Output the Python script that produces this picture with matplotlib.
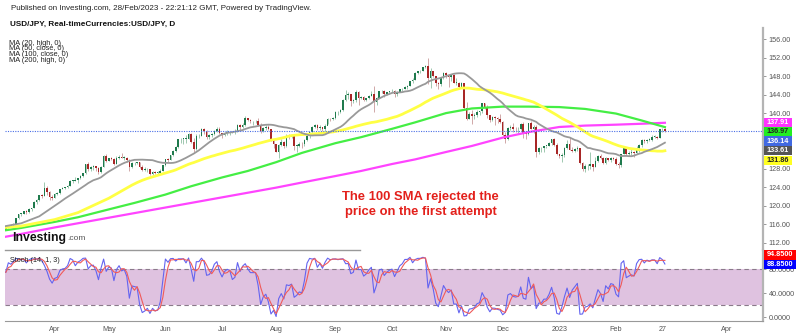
import numpy as np
import pandas as pd
import matplotlib
matplotlib.use("Agg")
import matplotlib.pyplot as plt
from matplotlib.lines import Line2D
from matplotlib.patches import Rectangle

plt.rcParams['font.family'] = ['Liberation Sans', 'DejaVu Sans']

# USD/JPY daily bars, 2022-03-07 .. 2023-02-28 (open = previous close)
first_open = 114.80
closes = [
    115.30, 115.70, 115.85, 116.10, 117.30, 118.20, 118.30, 118.75, 118.60, 119.20,
    119.50, 120.80, 121.20, 122.30, 122.05, 123.80, 122.90, 121.80, 121.70, 122.50,
    122.80, 123.60, 123.80, 123.95, 124.30, 125.40, 125.40, 125.60, 125.90, 126.40,
    127.00, 128.90, 127.90, 128.40, 128.50, 128.10, 127.20, 128.40, 130.80, 129.70,
    130.20, 130.10, 129.10, 130.20, 130.60, 130.30, 130.40, 129.90, 128.30, 129.20,
    129.20, 129.40, 128.30, 127.80, 127.90, 127.90, 126.90, 127.30, 127.10, 127.10,
    127.60, 128.70, 130.00, 129.90, 130.90, 131.90, 132.60, 134.30, 134.40, 134.40,
    134.40, 135.50, 133.80, 132.20, 135.00, 135.10, 136.60, 136.20, 134.90, 135.20,
    135.50, 136.10, 136.60, 135.70, 135.20, 135.70, 135.90, 135.90, 136.00, 136.10,
    137.40, 136.90, 137.40, 138.90, 138.50, 138.20, 138.20, 138.20, 137.40, 136.10,
    136.70, 137.00, 136.50, 134.20, 133.30, 131.60, 133.20, 133.80, 133.00, 135.00,
    134.90, 135.10, 132.90, 133.00, 133.40, 133.30, 134.20, 135.00, 135.90, 137.00,
    137.50, 136.70, 137.10, 136.60, 137.20, 138.80, 138.70, 138.90, 140.20, 140.20,
    140.60, 142.80, 144.00, 144.10, 142.60, 142.80, 144.60, 143.20, 143.50, 142.90,
    143.20, 143.70, 144.10, 142.40, 143.30, 144.70, 144.80, 144.20, 144.50, 144.70,
    144.80, 144.10, 144.60, 145.10, 145.30, 145.70, 145.80, 146.90, 147.20, 148.70,
    149.00, 149.20, 149.90, 150.20, 147.60, 149.00, 148.00, 146.40, 146.30, 147.50,
    148.70, 148.20, 147.90, 148.20, 146.60, 146.60, 145.60, 146.40, 141.00, 138.80,
    139.90, 139.30, 139.50, 140.20, 140.40, 142.10, 141.20, 139.50, 138.60, 139.10,
    138.90, 138.70, 138.10, 135.30, 134.30, 136.80, 137.00, 136.60, 136.50, 136.60,
    137.70, 135.60, 135.50, 137.80, 136.60, 136.90, 131.70, 132.40, 132.40, 132.90,
    132.90, 133.50, 134.40, 133.10, 131.10, 130.70, 131.00, 132.50, 133.40, 132.10,
    131.90, 132.20, 132.50, 129.20, 127.90, 128.50, 128.60, 128.90, 128.40, 129.60,
    130.70, 130.20, 129.20, 130.20, 129.90, 130.40, 130.10, 128.90, 128.70, 131.20,
    132.60, 131.10, 131.40, 131.50, 131.40, 132.40, 133.10, 134.10, 133.90, 134.20,
    134.20, 134.90, 134.90, 134.70, 136.47, 136.607, 136.14,
]
highs = [
    115.50, 115.80, 116.00, 116.20, 117.35, 118.30, 118.45, 118.90, 119.00, 119.40,
    119.60, 121.00, 121.40, 122.40, 122.45, 125.10, 124.30, 123.20, 122.40, 122.70,
    123.00, 123.70, 124.00, 124.10, 124.40, 125.50, 125.60, 126.30, 126.00, 126.70,
    127.10, 129.00, 129.40, 128.60, 128.80, 128.60, 128.30, 128.60, 131.00, 131.20,
    130.40, 130.50, 130.40, 130.80, 131.00, 131.30, 130.80, 130.50, 130.00, 129.40,
    129.50, 129.50, 129.50, 128.80, 128.30, 128.20, 128.00, 127.50, 127.60, 127.50,
    127.90, 128.80, 130.10, 130.20, 131.00, 132.00, 133.00, 134.50, 134.60, 134.60,
    135.20, 135.60, 135.60, 134.70, 135.40, 135.40, 136.70, 136.70, 136.30, 135.40,
    135.60, 136.40, 137.00, 136.90, 135.80, 135.90, 136.40, 136.00, 136.20, 136.60,
    137.70, 137.70, 137.90, 139.40, 139.00, 138.80, 138.40, 138.60, 138.90, 137.90,
    136.90, 137.50, 137.50, 136.60, 134.50, 133.40, 133.30, 134.30, 134.00, 135.50,
    135.50, 135.30, 135.20, 133.30, 133.80, 133.70, 134.50, 135.30, 136.00, 137.20,
    137.60, 137.70, 137.40, 137.10, 137.70, 138.90, 139.00, 139.10, 140.40, 140.50,
    140.80, 143.00, 145.00, 144.60, 144.10, 143.10, 144.90, 144.70, 143.80, 143.60,
    143.30, 143.90, 144.70, 145.90, 143.40, 144.80, 144.90, 144.90, 144.60, 144.80,
    145.10, 144.90, 144.70, 145.20, 145.40, 145.90, 146.00, 146.90, 147.60, 148.90,
    149.10, 149.30, 149.90, 150.30, 151.90, 149.70, 149.00, 148.10, 146.80, 147.80,
    148.80, 148.80, 148.20, 148.40, 148.40, 147.50, 146.80, 146.80, 146.60, 142.50,
    140.30, 140.60, 140.00, 140.60, 140.50, 142.20, 142.20, 141.70, 139.60, 139.40,
    139.30, 139.10, 139.90, 138.20, 135.90, 136.90, 137.50, 137.80, 137.10, 137.00,
    137.90, 138.00, 135.90, 137.90, 138.20, 137.50, 137.40, 132.70, 132.70, 133.00,
    133.00, 133.70, 134.50, 134.60, 133.50, 131.20, 131.40, 132.70, 134.10, 134.80,
    132.70, 132.40, 132.90, 132.50, 129.40, 128.90, 128.90, 131.60, 129.00, 130.60,
    130.90, 131.10, 130.50, 130.60, 130.30, 130.50, 130.50, 130.60, 129.40, 131.20,
    132.90, 132.70, 131.90, 132.20, 131.90, 132.80, 133.30, 134.30, 134.50, 134.40,
    134.60, 135.20, 135.20, 135.10, 136.50, 136.848, 136.70,
]
lows = [
    114.70, 115.10, 115.50, 115.70, 116.00, 117.20, 117.70, 118.20, 118.30, 118.40,
    118.90, 119.40, 120.40, 121.10, 121.70, 122.10, 122.40, 121.30, 121.30, 121.60,
    122.30, 122.50, 123.50, 123.50, 123.80, 124.20, 124.80, 125.30, 125.00, 125.80,
    126.30, 126.90, 127.40, 127.50, 127.80, 127.60, 126.90, 127.00, 128.30, 129.50,
    129.60, 129.80, 128.80, 128.90, 130.00, 130.20, 129.90, 129.50, 127.50, 128.20,
    128.80, 128.90, 128.20, 127.60, 127.60, 127.30, 126.60, 126.70, 126.80, 126.60,
    127.10, 127.40, 128.60, 129.50, 129.80, 130.70, 131.70, 132.50, 133.60, 133.40,
    133.60, 134.30, 133.50, 131.50, 132.00, 134.60, 135.00, 135.50, 134.30, 134.50,
    134.80, 135.30, 135.90, 135.50, 134.70, 135.10, 135.20, 135.30, 135.60, 135.50,
    136.00, 136.40, 136.70, 137.30, 138.20, 137.90, 137.50, 137.90, 137.20, 135.60,
    135.90, 136.40, 136.30, 133.90, 132.50, 131.50, 130.40, 132.80, 132.50, 132.70,
    134.40, 134.60, 132.00, 131.70, 132.60, 132.50, 132.90, 134.00, 134.70, 135.70,
    136.70, 136.30, 136.40, 136.20, 136.20, 137.60, 138.30, 138.50, 138.80, 139.60,
    140.00, 140.50, 142.70, 143.10, 141.50, 142.20, 142.50, 141.80, 143.00, 142.60,
    142.70, 143.00, 143.60, 140.30, 141.80, 143.20, 144.40, 143.50, 144.00, 144.20,
    144.50, 143.50, 143.80, 144.50, 144.70, 145.20, 145.30, 145.80, 146.40, 147.10,
    148.40, 148.70, 149.10, 149.70, 146.20, 145.50, 147.70, 145.90, 145.10, 145.90,
    147.40, 147.60, 145.70, 147.00, 146.60, 146.00, 145.30, 145.40, 140.80, 138.50,
    138.80, 137.70, 138.80, 139.10, 139.50, 140.10, 140.90, 139.00, 138.10, 138.40,
    137.50, 137.90, 137.80, 135.00, 133.60, 134.10, 136.40, 136.00, 136.00, 135.70,
    136.40, 134.70, 134.50, 135.30, 136.50, 135.70, 130.60, 131.20, 131.70, 131.60,
    132.50, 132.80, 133.20, 132.90, 130.90, 130.30, 129.50, 130.50, 132.20, 132.00,
    131.50, 131.60, 131.80, 128.90, 127.50, 127.20, 127.80, 127.90, 127.60, 128.30,
    129.50, 130.00, 129.00, 129.00, 129.60, 129.50, 129.80, 128.70, 128.10, 128.40,
    131.20, 130.90, 130.80, 130.90, 130.50, 131.20, 131.60, 132.60, 133.50, 133.50,
    133.90, 134.00, 134.60, 134.40, 134.60, 136.00, 135.90,
]

# averages before their own window is full (early March .. May)
ma20_early_dates = ["2022-03-07", "2022-03-15", "2022-03-24"]
ma20_early = [115.6, 116.2, 117.7]
ma50_early_dates = ["2022-03-07", "2022-03-15", "2022-04-01", "2022-04-14", "2022-05-02"]
ma50_early = [115.3, 115.6, 117.0, 118.5, 121.6]

# long averages as drawn on the chart
ma_dates = ["2022-03-07", "2022-03-15", "2022-04-01", "2022-04-14", "2022-05-02",
            "2022-05-16", "2022-06-01", "2022-06-15", "2022-07-01", "2022-07-15",
            "2022-08-01", "2022-08-15", "2022-09-01", "2022-09-15", "2022-10-03",
            "2022-10-14", "2022-11-01", "2022-11-15", "2022-12-01", "2022-12-15",
            "2023-01-02", "2023-01-16", "2023-02-01", "2023-02-15", "2023-02-28"]
ma100 = [114.7, 115.2, 116.5, 117.5, 119.2, 120.6, 122.4, 124.2, 126.1, 127.5,
         129.4, 131.4, 133.5, 134.8, 136.6, 138.0, 140.0, 141.0, 141.4, 141.4,
         141.3, 140.9, 139.9, 138.4, 136.97]
ma200 = [113.3, 113.9, 115.3, 116.2, 117.4, 118.4, 119.6, 120.6, 121.8, 122.8,
         123.9, 125.0, 126.4, 127.5, 129.0, 130.0, 131.6, 132.9, 134.7, 135.9,
         137.0, 137.3, 137.5, 137.7, 137.91]

last_price = 136.14

x_labels = ["Apr", "May", "Jun", "Jul", "Aug", "Sep", "Oct", "Nov", "Dec",
            "2023", "Feb", "27", "Apr"]
x_label_dates = ["2022-04-01", "2022-05-02", "2022-06-01", "2022-07-01", "2022-08-01",
                 "2022-09-01", "2022-10-03", "2022-11-01", "2022-12-01", "2023-01-02",
                 "2023-02-01", "2023-02-27", "2023-04-03"]

# ---------------------------------------------------------------
sessions = pd.bdate_range("2022-03-07", "2023-04-28")
pos = {d: i for i, d in enumerate(sessions)}


def to_x(dates):
    return [pos[pd.Timestamp(d)] for d in dates]


c = np.array(closes)
h = np.array(highs)
l = np.array(lows)
o = np.concatenate([[first_open], c[:-1]])
x = np.arange(len(c))

df = pd.DataFrame({"h": h, "l": l, "c": c})
ma20_calc = df["h"].rolling(20).mean()
ma50_calc = df["c"].rolling(50).mean()
x20 = to_x(ma20_early_dates) + list(x[19:])
y20 = ma20_early + list(ma20_calc[19:])
x50 = to_x(ma50_early_dates) + list(x[49:])
y50 = ma50_early + list(ma50_calc[49:])

# stochastic 14,1,3
hh = df["h"].rolling(14, min_periods=1).max()
ll = df["l"].rolling(14, min_periods=1).min()
k = 100 * (df["c"] - ll) / (hh - ll)
d = k.rolling(3, min_periods=1).mean()

W, H = 800, 336
fig = plt.figure(figsize=(W / 100, H / 100), dpi=100)
fig.patch.set_facecolor("white")


def fx(px):
    return px / W


def fy(py):
    return 1 - py / H


left, right = 5, 763
ax = fig.add_axes([fx(left), fy(250), fx(right - left), fy(28) - fy(250)])
ax2 = fig.add_axes([fx(left), fy(320.7), fx(right - left), fy(250) - fy(320.7)])

xlim = (-0.3, 294.1)
for a in (ax, ax2):
    a.set_xlim(*xlim)
    a.set_facecolor("none")
    for s in ("top", "left", "bottom"):
        a.spines[s].set_visible(False)
    a.spines["right"].set_color("#b4b4b4")
    a.spines["right"].set_linewidth(1.6)
    a.yaxis.tick_right()
    a.tick_params(axis="y", length=2.5, width=0.6, color="#888888",
                  labelsize=5.2, labelcolor="#555555", pad=1.5)
    a.tick_params(axis="x", length=0)

# price scale (136 and 132 sit under the value tags)
price_ticks = [v for v in range(112, 157, 4) if v not in (132, 136)]
ax.set_ylim(110.43, 158.38)
ax.set_xticks([])
ax.set_yticks(price_ticks)
ax.set_yticklabels(["%.2f" % v for v in price_ticks])

# candles
up = c >= o
body_lo = np.minimum(o, c)
body_h = np.maximum(np.abs(c - o), 0.12)
ax.vlines(x[up], l[up], h[up], color="#8fbfa3", lw=0.6, zorder=2)
ax.vlines(x[~up], l[~up], h[~up], color="#c99a9a", lw=0.6, zorder=2)
ax.bar(x[up], body_h[up], bottom=body_lo[up], width=0.62, color="#1f7a4d",
       linewidth=0, zorder=3)
ax.bar(x[~up], body_h[~up], bottom=body_lo[~up], width=0.62, color="#a82626",
       linewidth=0, zorder=3)

# moving averages
ax.plot(to_x(ma_dates), ma200, color="#ff44ff", lw=1.6, zorder=4)
ax.plot(to_x(ma_dates), ma100, color="#44ee44", lw=1.6, zorder=4)
ax.plot(x50, y50, color="#ffff44", lw=2.0, zorder=4)
ax.plot(x20, y20, color="#999999", lw=1.3, zorder=4)

ax.axhline(last_price, color="#4a6ee6", lw=0.8, ls=(0, (1, 1.2)), zorder=5)

ax.text(0.548, 0.205, "The 100 SMA rejected the\nprice on the first attempt",
        transform=ax.transAxes, ha="center", va="center", color="#e3201b",
        fontsize=9.4, fontweight="bold", linespacing=1.4, zorder=6)

# stochastic panel
ax2.set_ylim(-5.7, 112.2)
ax2.set_yticks([0, 40, 80])
ax2.set_yticklabels(["0.0000", "40.0000", "80.0000"])
ax2.spines["bottom"].set_visible(True)
ax2.spines["bottom"].set_color("#999999")
ax2.spines["bottom"].set_linewidth(0.8)
ax2.axhspan(20, 80, color="#dfc2e0", lw=0, zorder=1)
ax2.axhline(80, color="#8a7a8a", lw=0.8, ls=(0, (4, 3)), zorder=2)
ax2.axhline(20, color="#8a7a8a", lw=0.8, ls=(0, (4, 3)), zorder=2)
ax2.plot(x, k, color="#6464f0", lw=0.8, zorder=3)
ax2.plot(x, d, color="#f05a5a", lw=0.8, zorder=3)
ax2.set_xticks(to_x(x_label_dates))
ax2.set_xticklabels(x_labels, fontsize=5.2, color="#555555")
ax2.tick_params(axis="x", pad=3.5)

# panel separator under the logo
fig.add_artist(Line2D([fx(5), fx(360)], [fy(250), fy(250)], color="#999999", lw=1.0))

# header
fig.text(fx(11), fy(9), "Published on Investing.com, 28/Feb/2023 - 22:21:12 GMT, Powered by TradingView.",
         fontsize=5.8, color="#222222", va="center")
fig.text(fx(10), fy(24), "USD/JPY, Real-timeCurrencies:USD/JPY, D",
         fontsize=5.9, fontweight="bold", color="#111111", va="center")
for i, s in enumerate(["MA (20, high, 0)", "MA (50, close, 0)",
                       "MA (100, close, 0)", "MA (200, high, 0)"]):
    fig.text(fx(9), fy(43.3 + 5.6 * i), s, fontsize=5.3, color="#222222", va="center")
fig.text(fx(10), fy(261), "Stoch (14, 1, 3)", fontsize=5.2, color="#222222", va="center")

# logo
fig.text(fx(12), fy(238), "Investing", fontsize=8.8, fontweight="bold", color="#111111",
         va="center")
fig.text(fx(67), fy(239), ".com", fontsize=6.0, color="#555555", va="center")

# value tags on the price scale
tags = [("%.2f" % ma200[-1], "#ff33ff", "white", 122.7),
        ("%.2f" % ma100[-1], "#22ee22", "#222222", 131.7),
        ("%.2f" % last_price, "#4169e1", "white", 141.0),
        ("%.2f" % y20[-1], "#555555", "white", 150.7),
        ("%.2f" % y50[-1], "#ffff22", "#222222", 160.7)]
for txt, bg, fg, yc in tags:
    fig.add_artist(Rectangle((fx(764), fy(yc + 4.6)), fx(28), fy(0) - fy(9.2),
                             facecolor=bg, edgecolor="none", zorder=10))
    fig.text(fx(778), fy(yc), txt, fontsize=5.2, fontweight="bold", color=fg,
             ha="center", va="center", zorder=11)

stags = [("%.4f" % round(d.iloc[-1], 2), "#ff0000", 255.0),
         ("%.4f" % round(k.iloc[-1], 2), "#0000ff", 264.7)]
for txt, bg, yc in stags:
    fig.add_artist(Rectangle((fx(764), fy(yc + 4.6)), fx(32), fy(0) - fy(9.2),
                             facecolor=bg, edgecolor="none", zorder=10))
    fig.text(fx(780), fy(yc), txt, fontsize=5.2, fontweight="bold", color="white",
             ha="center", va="center", zorder=11)

fig.savefig("out.png", dpi=100)
